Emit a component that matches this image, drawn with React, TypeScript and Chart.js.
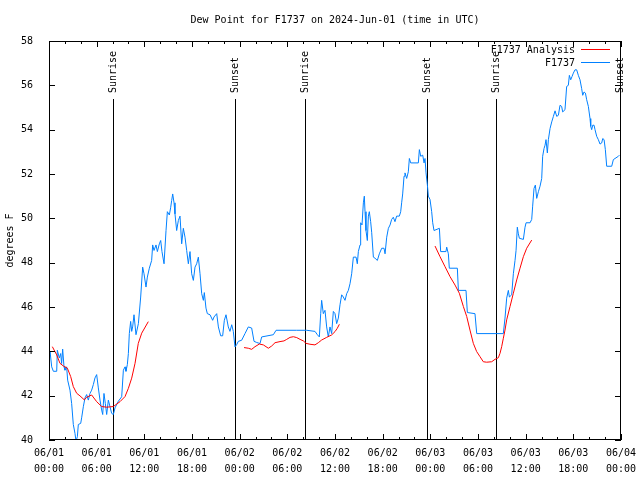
import React, { useEffect, useRef } from "react";
import { Chart, registerables } from "chart.js";

Chart.register(...registerables);

const chartTitle = "Dew Point for F1737 on 2024-Jun-01 (time in UTC)";
const yAxisLabel = "degrees F";
const seriesNames = ["F1737 Analysis", "F1737"];

const tickDates = ["06/01", "06/01", "06/01", "06/01", "06/02", "06/02", "06/02", "06/02", "06/03", "06/03", "06/03", "06/03", "06/04"];
const tickTimes = ["00:00", "06:00", "12:00", "18:00", "00:00", "06:00", "12:00", "18:00", "00:00", "06:00", "12:00", "18:00", "00:00"];

// hours since 2024-06-01 00:00 UTC
const sunHours = [8.08, 23.46, 32.27, 47.63, 56.27, 71.88];
const sunLabels = ["Sunrise", "Sunset", "Sunrise", "Sunset", "Sunrise", "Sunset"];

const obsHours = [
  0, 0.13, 0.34, 0.55, 0.97, 1.05, 1.3, 1.47, 1.59, 1.72, 1.89, 2.01, 2.22, 2.35, 2.64, 2.85, 3.06, 3.27, 3.4, 3.57,
  3.69, 3.99, 4.11, 4.32, 4.53, 4.74, 4.95, 5.16, 5.37, 5.58, 5.79, 6.0, 6.21, 6.42, 6.63, 6.76, 6.92, 7.09, 7.26, 7.47,
  7.68, 7.89, 8.1, 8.31, 8.73, 9.15, 9.36, 9.57, 9.69, 9.86, 9.99, 10.11, 10.28, 10.41, 10.53, 10.7, 10.95, 11.25, 11.54, 11.79,
  11.96, 12.21, 12.38, 12.63, 12.92, 13.05, 13.22, 13.47, 13.64, 13.89, 14.06, 14.22, 14.48, 14.73, 14.9, 15.15, 15.32, 15.44, 15.57, 15.74,
  15.86, 16.07, 16.28, 16.49, 16.7, 16.91, 17.12, 17.33, 17.54, 17.75, 17.96, 18.17, 18.38, 18.59, 18.8, 19.01, 19.22, 19.43, 19.55, 19.76,
  19.93, 20.27, 20.6, 20.77, 21.11, 21.32, 21.61, 21.86, 22.07, 22.28, 22.57, 22.78, 23.0, 23.2, 23.41, 23.62, 23.83, 24.25, 24.67, 25.09,
  25.51, 25.81, 26.14, 26.56, 26.77, 28.24, 28.58, 31.18, 32.43, 33.48, 33.78, 34.03, 34.2, 34.32, 34.53, 34.74, 34.95, 35.16, 35.37, 35.58,
  35.79, 36.0, 36.21, 36.42, 36.63, 36.84, 37.05, 37.26, 37.47, 37.68, 37.89, 38.1, 38.31, 38.65, 38.81, 38.94, 39.15, 39.23, 39.4, 39.57,
  39.69, 39.78, 39.9, 40.07, 40.2, 40.32, 40.49, 40.62, 40.83, 41.04, 41.33, 41.58, 41.88, 42.17, 42.3, 42.51, 42.72, 42.93, 43.13, 43.34,
  43.55, 43.76, 44.1, 44.27, 44.39, 44.52, 44.69, 44.81, 45.02, 45.23, 45.36, 45.53, 46.49, 46.62, 46.79, 47.04, 47.21, 47.33, 47.46, 47.63,
  47.75, 47.96, 48.17, 48.3, 48.46, 49.14, 49.3, 49.97, 50.06, 50.27, 50.39, 51.4, 51.53, 52.49, 52.66, 53.62, 53.84, 57.19, 57.4, 57.61,
  57.82, 57.95, 58.24, 58.45, 58.66, 58.79, 58.95, 59.08, 59.21, 59.71, 59.92, 60.05, 60.55, 60.76, 60.88, 61.05, 61.22, 61.39, 61.6, 61.81,
  62.02, 62.14, 62.31, 62.44, 62.56, 62.73, 62.86, 63.07, 63.28, 63.49, 63.7, 63.91, 64.12, 64.32, 64.53, 64.66, 64.95, 65.16, 65.37, 65.5,
  65.67, 65.84, 66.0, 66.21, 66.42, 66.63, 66.84, 67.05, 67.18, 67.35, 67.52, 67.68, 67.89, 68.1, 68.19, 68.31, 68.44, 68.61, 68.73, 68.94,
  69.15, 69.36, 69.57, 69.7, 69.87, 70.03, 70.2, 70.83, 71.04, 71.67, 71.8,
];
const obsValues = [
  43.5, 44.0, 43.3, 43.1, 43.1, 44.05, 43.7, 43.9, 43.45, 44.1, 43.3, 43.15, 43.3, 42.7, 42.25, 41.65, 40.7, 40.3, 39.95, 40.15,
  40.7, 40.75, 41.0, 41.5, 41.9, 42.05, 41.8, 42.1, 42.25, 42.5, 42.8, 42.95, 42.35, 41.8, 41.35, 41.15, 42.1, 41.65, 41.15, 41.8,
  41.5, 41.2, 41.15, 41.45, 41.75, 41.95, 43.15, 43.3, 43.1, 43.4, 43.9, 44.8, 45.35, 44.9, 45.1, 45.65, 44.75, 45.25, 46.45, 47.8,
  47.5, 46.9, 47.35, 47.75, 48.1, 48.8, 48.55, 48.8, 48.5, 48.85, 49.0, 48.5, 47.95, 49.45, 50.3, 50.15, 50.5, 50.8, 51.1, 50.7,
  50.2, 49.45, 49.9, 50.1, 48.85, 49.55, 49.15, 48.55, 47.95, 48.5, 47.5, 47.2, 47.8, 47.95, 48.25, 47.5, 46.6, 46.3, 46.65, 45.95,
  45.7, 45.65, 45.4, 45.55, 45.7, 45.1, 44.7, 44.7, 45.4, 45.65, 45.1, 44.9, 45.2, 44.9, 44.2, 44.3, 44.45, 44.5, 44.8, 45.1,
  45.05, 44.45, 44.4, 44.35, 44.65, 44.75, 44.95, 44.95, 44.95, 44.9, 44.75, 44.65, 45.7, 46.3, 45.7, 45.85, 45.1, 44.65, 45.1, 44.8,
  45.8, 45.7, 45.25, 45.5, 46.1, 46.55, 46.45, 46.3, 46.6, 46.75, 47.05, 47.5, 48.25, 48.25, 47.95, 48.5, 48.8, 49.8, 49.7, 50.7,
  51.0, 50.3, 49.45, 49.0, 50.1, 50.3, 49.85, 49.35, 48.25, 48.2, 48.1, 48.4, 48.65, 48.65, 48.4, 49.15, 49.55, 49.7, 49.95, 50.05,
  49.85, 50.1, 50.1, 50.3, 50.7, 51.1, 51.9, 52.05, 51.8, 52.1, 52.7, 52.5, 52.5, 53.1, 52.8, 52.85, 52.5, 52.7, 52.05, 51.5,
  51.0, 50.85, 50.3, 49.8, 49.45, 49.55, 48.5, 48.5, 48.7, 48.4, 47.75, 47.75, 46.75, 46.75, 45.75, 45.7, 44.8, 44.8, 45.5, 46.4,
  46.75, 46.45, 46.55, 47.5, 48.1, 48.55, 49.6, 49.3, 49.1, 49.05, 49.6, 49.8, 49.8, 49.95, 50.55, 51.35, 51.5, 50.9, 51.2, 51.45,
  51.8, 52.8, 53.15, 53.3, 53.55, 52.95, 53.55, 54.05, 54.35, 54.6, 54.85, 54.6, 54.65, 55.1, 55.05, 54.8, 54.9, 55.95, 56.0, 56.45,
  56.25, 56.4, 56.55, 56.7, 56.7, 56.45, 56.25, 55.85, 55.55, 55.7, 55.65, 55.35, 55.05, 54.5, 54.15, 54.0, 54.2, 54.2, 54.0, 53.7,
  53.55, 53.35, 53.4, 53.6, 53.55, 53.1, 52.35, 52.35, 52.65, 52.8, 52.85,
];

// null values mark gaps between analysis segments
const anaHours = [
  0.42, 0.97, 1.38, 1.8, 2.31, 2.73, 3.06, 3.48, 3.9, 4.45, 4.74, 5.37, 6.0, 6.63, 7.26, 8.1, 8.94, 9.57, 9.99, 10.41,
  10.83, 11.24, 11.67, 12.5, 18.0,
  24.55, 25.09, 25.51, 25.93, 26.48, 26.98, 27.61, 28.03, 28.45, 29.08, 29.58, 29.92, 30.34, 30.76, 31.18, 31.6, 32.02, 32.35, 32.85, 33.48,
  33.9, 34.32, 34.95, 35.58, 36.0, 36.29, 36.55, 42.0,
  48.59, 49.22, 49.85, 50.48, 51.11, 51.65, 52.16, 52.58, 52.99, 53.41, 53.83, 54.25, 54.67, 55.09, 55.72, 56.14, 56.56, 56.77, 56.98, 57.19,
  57.4, 57.61, 58.03, 58.45, 58.87, 59.29, 59.71, 60.13, 60.76,
];
const anaValues = [
  44.21, 43.84, 43.46, 43.34, 43.24, 42.86, 42.41, 42.11, 41.99, 41.81, 41.93, 42.03, 41.73, 41.51, 41.48, 41.51, 41.73, 41.96, 42.33, 42.79,
  43.46, 44.36, 44.82, 45.34, null,
  44.17, 44.14, 44.09, 44.21, 44.33, 44.29, 44.14, 44.24, 44.39, 44.44, 44.47, 44.54, 44.63, 44.66, 44.62, 44.54, 44.47, 44.36, 44.32, 44.29,
  44.39, 44.51, 44.63, 44.74, 44.89, 45.04, 45.22, null,
  48.75, 48.27, 47.82, 47.37, 46.99, 46.62, 46.02, 45.57, 44.96, 44.36, 43.99, 43.76, 43.53, 43.51, 43.53, 43.64, 43.71, 43.91, 44.21, 44.59,
  44.96, 45.42, 46.02, 46.62, 47.22, 47.75, 48.27, 48.65, 49.02,
];

const FONT = "'DejaVu Sans Mono', 'Liberation Mono', monospace";
const RED = "#ff0000";
const BLUE = "#0080ff";

const gnuplotPlugin = {
  id: "gnuplotDecor",
  beforeDatasetsDraw(chart: any) {
    const { ctx, chartArea, scales } = chart;
    const xs = scales.x;
    ctx.save();
    ctx.strokeStyle = "#000";
    ctx.lineWidth = 1;
    ctx.fillStyle = "#000";
    ctx.font = `10px ${FONT}`;
    sunHours.forEach((h, i) => {
      const x = Math.round(xs.getPixelForValue(h)) + 0.5;
      ctx.beginPath();
      ctx.moveTo(x, 99);
      ctx.lineTo(x, chartArea.bottom);
      ctx.stroke();
      ctx.save();
      ctx.translate(x, 93);
      ctx.rotate(-Math.PI / 2);
      ctx.textAlign = "left";
      ctx.textBaseline = "middle";
      ctx.fillText(sunLabels[i], 0, 0);
      ctx.restore();
    });
    ctx.restore();
  },
  afterDraw(chart: any) {
    const { ctx, chartArea, scales } = chart;
    const { left, right, top, bottom } = chartArea;
    const xs = scales.x;
    const ys = scales.y;
    ctx.save();
    ctx.strokeStyle = "#000";
    ctx.lineWidth = 1;
    // frame
    ctx.strokeRect(left + 0.5, top + 0.5, right - left - 1, bottom - top - 1);
    // x ticks (inward, top and bottom)
    ctx.beginPath();
    for (let h = 0; h <= 72; h += 2) {
      const x = Math.round(xs.getPixelForValue(h)) + 0.5;
      const len = h % 6 === 0 ? 6 : 3;
      ctx.moveTo(x, bottom);
      ctx.lineTo(x, bottom - len);
      ctx.moveTo(x, top);
      ctx.lineTo(x, top + len);
    }
    // y ticks (inward, left and right)
    for (let v = 40; v <= 58; v += 2) {
      const y = Math.round(ys.getPixelForValue(v)) + 0.5;
      ctx.moveTo(left, y);
      ctx.lineTo(left + 6, y);
      ctx.moveTo(right, y);
      ctx.lineTo(right - 6, y);
    }
    ctx.stroke();

    ctx.fillStyle = "#000";
    ctx.font = `10px ${FONT}`;
    // x tick labels (two lines)
    ctx.textAlign = "center";
    ctx.textBaseline = "middle";
    tickDates.forEach((d, i) => {
      const x = xs.getPixelForValue(i * 6);
      ctx.fillText(d, x, bottom + 13);
      ctx.fillText(tickTimes[i], x, bottom + 29);
    });
    // title
    ctx.fillText(chartTitle, (left + right) / 2, 20);
    // y axis label
    ctx.save();
    ctx.translate(10, (top + bottom) / 2);
    ctx.rotate(-Math.PI / 2);
    ctx.fillText(yAxisLabel, 0, 0);
    ctx.restore();
    // legend
    const colors = [RED, BLUE];
    seriesNames.forEach((name, i) => {
      const y = 50 + i * 13;
      ctx.fillStyle = "#000";
      ctx.textAlign = "right";
      ctx.fillText(name, 575, y);
      ctx.strokeStyle = colors[i];
      ctx.beginPath();
      ctx.moveTo(581, y - 0.5);
      ctx.lineTo(610, y - 0.5);
      ctx.stroke();
    });
    ctx.restore();
  },
};

export default function App() {
  const ref = useRef<HTMLCanvasElement | null>(null);
  useEffect(() => {
    if (!ref.current) return;
    const chart = new Chart(ref.current, {
      type: "line",
      data: {
        datasets: [
          {
            label: seriesNames[0],
            data: anaHours.map((h, i) => ({ x: h, y: anaValues[i] })) as any,
            borderColor: RED,
            borderWidth: 1,
            pointRadius: 0,
            spanGaps: false,
            tension: 0,
          },
          {
            label: seriesNames[1],
            data: obsHours.map((h, i) => ({ x: h, y: obsValues[i] })),
            borderColor: BLUE,
            borderWidth: 1,
            pointRadius: 0,
            tension: 0,
          },
        ],
      },
      options: {
        responsive: false,
        devicePixelRatio: 1,
        animation: false,
        layout: { padding: { top: 41, right: 19, left: 0, bottom: 0 } },
        plugins: {
          legend: { display: false },
          title: { display: false },
          tooltip: { enabled: false },
        },
        scales: {
          x: {
            type: "linear",
            min: 0,
            max: 72,
            grid: { display: false },
            border: { display: false },
            ticks: { display: false, stepSize: 6 },
            afterFit: (s: any) => {
              s.height = 40;
            },
          },
          y: {
            min: 40,
            max: 58,
            grid: { display: false },
            border: { display: false },
            ticks: {
              stepSize: 2,
              padding: 8,
              color: "#000",
              font: { family: FONT, size: 10 },
            },
            afterFit: (s: any) => {
              s.width = 49;
            },
          },
        },
      },
      plugins: [gnuplotPlugin],
    });
    return () => chart.destroy();
  }, []);
  return (
    <div style={{ position: "absolute", left: 0, top: 0, width: 640, height: 480, background: "#fff" }}>
      <canvas ref={ref} width={640} height={480} style={{ display: "block" }} />
    </div>
  );
}
